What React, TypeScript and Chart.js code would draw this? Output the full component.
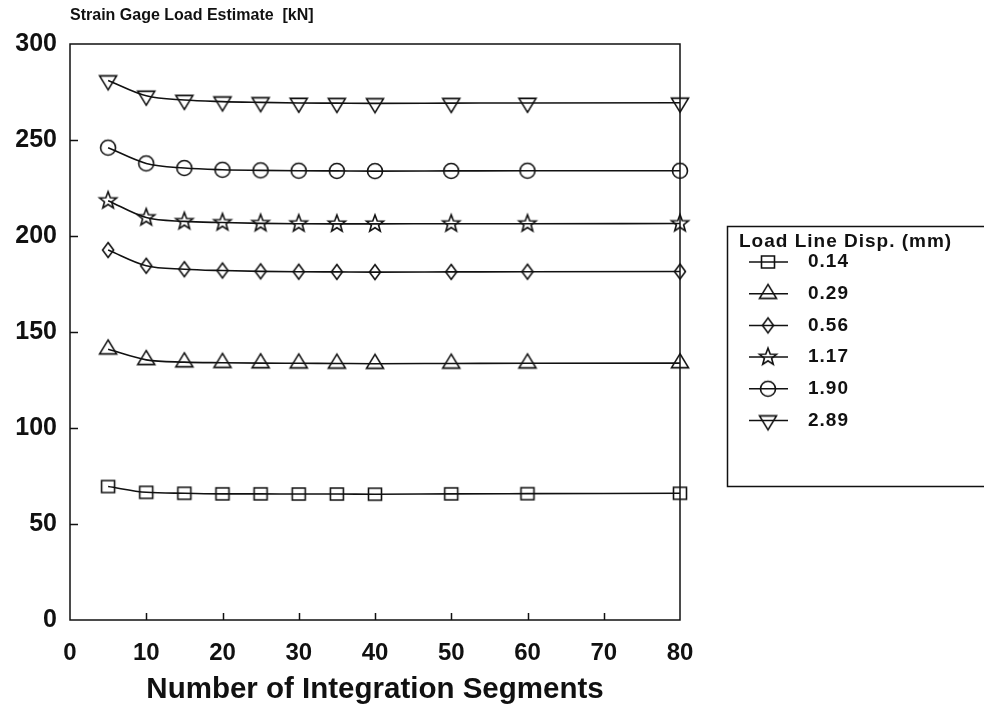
import React, { useEffect, useRef } from 'react';
import { Chart, registerables } from 'chart.js';

Chart.register(...registerables);

// ---- data ----
const segments = [5, 10, 15, 20, 25, 30, 35, 40, 50, 60, 80];
const dispLabels = ['0.14', '0.29', '0.56', '1.17', '1.90', '2.89'];
const load014 = [69.5, 66.5, 66, 65.7, 65.7, 65.6, 65.6, 65.5, 65.7, 65.8, 66];
const load029 = [141, 135.5, 134.3, 134, 133.8, 133.7, 133.6, 133.5, 133.6, 133.7, 133.8];
const load056 = [192.7, 184.5, 182.7, 182, 181.6, 181.4, 181.3, 181.2, 181.3, 181.4, 181.5];
const load117 = [218.4, 209.6, 207.6, 207, 206.6, 206.4, 206.3, 206.3, 206.4, 206.4, 206.5];
const load190 = [246, 237.8, 235.4, 234.5, 234.2, 234, 233.9, 233.8, 233.9, 234, 234];
const load289 = [281, 273, 270.8, 270, 269.6, 269.3, 269.2, 269.1, 269.2, 269.3, 269.4];
const seriesValues = [load014, load029, load056, load117, load190, load289];
const markerKinds = ['square', 'triangle', 'diamond', 'star', 'circle', 'triangleDown'];
const xTickValues = [0, 10, 20, 30, 40, 50, 60, 70, 80];
const yTickValues = [0, 50, 100, 150, 200, 250, 300];
const yTitle = 'Strain Gage Load Estimate  [kN]';
const xTitle = 'Number of Integration Segments';
const legendTitle = 'Load Line Disp. (mm)';

const FONT = '"Liberation Sans", Arial, Helvetica, sans-serif';
const INK = '#111';

function makeMarker(kind: string): HTMLCanvasElement {
  const size = 24;
  const c = document.createElement('canvas');
  c.width = size;
  c.height = size;
  const ctx = c.getContext('2d')!;
  const cx = size / 2;
  const cy = size / 2;
  ctx.strokeStyle = INK;
  ctx.lineWidth = 1.6;
  ctx.lineJoin = 'miter';
  ctx.beginPath();
  if (kind === 'square') {
    ctx.rect(cx - 6.5, cy - 6, 13, 12);
  } else if (kind === 'triangle') {
    const w = 8.5, h = 14;
    ctx.moveTo(cx, cy - (h * 2) / 3);
    ctx.lineTo(cx + w, cy + h / 3);
    ctx.lineTo(cx - w, cy + h / 3);
    ctx.closePath();
  } else if (kind === 'triangleDown') {
    const w = 8.5, h = 14;
    ctx.moveTo(cx, cy + (h * 2) / 3);
    ctx.lineTo(cx + w, cy - h / 3);
    ctx.lineTo(cx - w, cy - h / 3);
    ctx.closePath();
  } else if (kind === 'diamond') {
    ctx.moveTo(cx, cy - 7.5);
    ctx.lineTo(cx + 5.5, cy);
    ctx.lineTo(cx, cy + 7.5);
    ctx.lineTo(cx - 5.5, cy);
    ctx.closePath();
  } else if (kind === 'star') {
    const ro = 9, ri = 3.8;
    for (let k = 0; k < 10; k++) {
      const r = k % 2 === 0 ? ro : ri;
      const a = -Math.PI / 2 + (k * Math.PI) / 5;
      const px = cx + r * Math.cos(a);
      const py = cy + r * Math.sin(a);
      if (k === 0) ctx.moveTo(px, py);
      else ctx.lineTo(px, py);
    }
    ctx.closePath();
  } else {
    ctx.arc(cx, cy, 7.5, 0, Math.PI * 2);
  }
  ctx.stroke();
  return c;
}

export default function App() {
  const ref = useRef<HTMLCanvasElement | null>(null);

  useEffect(() => {
    if (!ref.current) return;
    const markers = markerKinds.map(makeMarker);

    const decorPlugin = {
      id: 'decor',
      afterDraw(chart: any) {
        const ctx = chart.ctx as CanvasRenderingContext2D;
        const area = chart.chartArea;
        const xs = chart.scales.x;
        const ys = chart.scales.y;
        ctx.save();
        // frame
        ctx.strokeStyle = INK;
        ctx.lineWidth = 1.5;
        ctx.strokeRect(area.left, area.top, area.right - area.left, area.bottom - area.top);
        // inward ticks
        ctx.beginPath();
        xTickValues.forEach((v) => {
          if (v === xTickValues[0] || v === xTickValues[xTickValues.length - 1]) return;
          const px = Math.round(xs.getPixelForValue(v)) + 0.5;
          ctx.moveTo(px, area.bottom);
          ctx.lineTo(px, area.bottom - 7);
        });
        yTickValues.forEach((v) => {
          if (v === yTickValues[0] || v === yTickValues[yTickValues.length - 1]) return;
          const py = Math.round(ys.getPixelForValue(v)) + 0.5;
          ctx.moveTo(area.left, py);
          ctx.lineTo(area.left + 8, py);
        });
        ctx.stroke();

        // y-axis title at top-left
        ctx.fillStyle = INK;
        ctx.font = `bold 16px ${FONT}`;
        ctx.textAlign = 'left';
        ctx.textBaseline = 'middle';
        ctx.fillText(yTitle, area.left, 16);

        // legend box
        const lx = 727;
        const ltop = 226;
        const lbottom = 486;
        ctx.lineWidth = 1.5;
        ctx.beginPath();
        ctx.moveTo(990, ltop + 0.5);
        ctx.lineTo(lx + 0.5, ltop + 0.5);
        ctx.lineTo(lx + 0.5, lbottom + 0.5);
        ctx.lineTo(990, lbottom + 0.5);
        ctx.stroke();
        (ctx as any).letterSpacing = '1px';
        ctx.font = `bold 19px ${FONT}`;
        ctx.fillText(legendTitle, 739, 242);
        dispLabels.forEach((lab, i) => {
          const yy = 262 + i * 31.7;
          ctx.lineWidth = 1.5;
          ctx.beginPath();
          ctx.moveTo(749, yy);
          ctx.lineTo(788, yy);
          ctx.stroke();
          const m = markers[i];
          ctx.drawImage(m, 768 - m.width / 2, yy - m.height / 2);
          ctx.font = `bold 19px ${FONT}`;
          ctx.fillText(lab, 808, yy);
        });
        (ctx as any).letterSpacing = '0px';
        ctx.restore();
      },
    };

    const chart = new Chart(ref.current, {
      type: 'line',
      data: {
        datasets: seriesValues.map((vals, i) => ({
          label: dispLabels[i],
          data: segments.map((x, j) => ({ x, y: vals[j] })),
          borderColor: INK,
          backgroundColor: 'transparent',
          borderWidth: 1.6,
          pointStyle: markers[i] as any,
          pointRadius: 8,
          fill: false,
          clip: false as any,
          cubicInterpolationMode: 'monotone' as const,
        })),
      },
      options: {
        animation: false,
        responsive: false,
        devicePixelRatio: 1,
        layout: { padding: { top: 44, right: 304, left: 0, bottom: 0 } },
        plugins: {
          legend: { display: false },
          tooltip: { enabled: false },
        },
        scales: {
          x: {
            type: 'linear',
            min: 0,
            max: 80,
            afterBuildTicks: (s: any) => {
              s.ticks = xTickValues.map((v) => ({ value: v }));
            },
            afterFit: (s: any) => {
              s.height = 95;
            },
            ticks: {
              color: INK,
              font: { family: FONT, size: 24, weight: 'bold' },
              padding: 19,
              maxRotation: 0,
              autoSkip: false,
            },
            grid: { display: false, drawTicks: false },
            border: { display: false },
            title: {
              display: true,
              text: xTitle,
              color: INK,
              font: { family: FONT, size: 29.5, weight: 'bold' },
              padding: { top: 0, bottom: 7 },
            },
          },
          y: {
            type: 'linear',
            min: 0,
            max: 300,
            afterBuildTicks: (s: any) => {
              s.ticks = yTickValues.map((v) => ({ value: v }));
            },
            afterFit: (s: any) => {
              s.width = 70;
            },
            ticks: {
              color: INK,
              font: { family: FONT, size: 25, weight: 'bold' },
              padding: 13,
              autoSkip: false,
            },
            grid: { display: false, drawTicks: false },
            border: { display: false },
          },
        },
      },
      plugins: [decorPlugin],
    });
    return () => chart.destroy();
  }, []);

  return (
    <div style={{ position: 'absolute', left: 0, top: 0, width: 984, height: 715, background: '#fff' }}>
      <canvas ref={ref} width={984} height={715} style={{ display: 'block' }} />
    </div>
  );
}
